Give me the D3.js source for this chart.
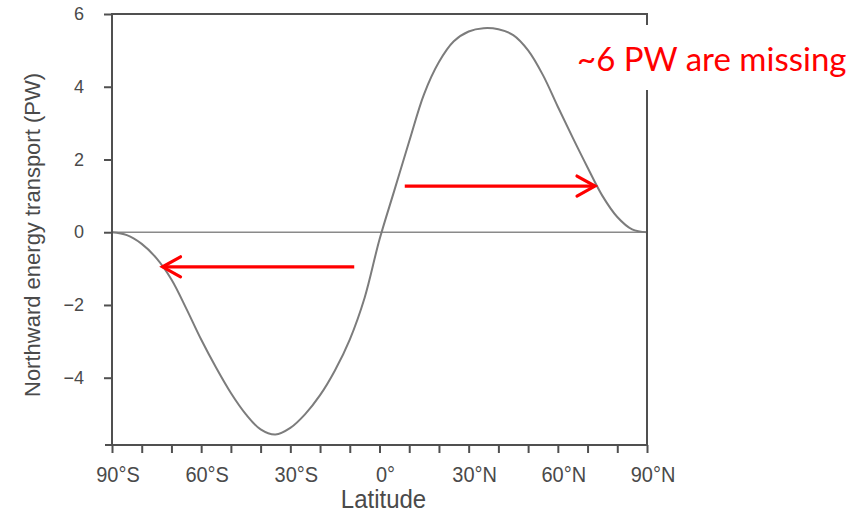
<!DOCTYPE html>
<html>
<head>
<meta charset="utf-8">
<script src="https://d3js.org/d3.v7.min.js"></script>
<style>
  body { margin: 0; background: #fff; }
  svg { display: block; }
</style>
</head>
<body>
<svg width="846" height="519"></svg>
<script>
// latitude (deg, negative = south) and northward energy transport (PW)
var latitude = [-90, -85, -80, -75, -70, -65, -60, -55, -50, -45, -40, -35, -30,
    -25, -20, -15, -10, -5, 0, 5, 10, 15, 20, 25, 30, 35, 40, 45, 50, 55, 60,
    65, 70, 75, 80, 85, 90];
var transport = [0, -0.08, -0.32, -0.72, -1.3, -2.1, -2.95, -3.72, -4.42, -5.0,
    -5.42, -5.56, -5.38, -5.0, -4.48, -3.8, -2.95, -1.8, -0.2, 1.15, 2.5, 3.8,
    4.68, 5.25, 5.52, 5.61, 5.58, 5.42, 5.0, 4.32, 3.45, 2.6, 1.78, 1.0, 0.42,
    0.08, 0];

var yTicks = [-4, -2, 0, 2, 4, 6];
var xMinorTicks = [-90, -80, -70, -60, -50, -40, -30, -20, -10, 0, 10, 20, 30, 40, 50, 60, 70, 80, 90];
var xLabelTicks = [-90, -60, -30, 0, 30, 60, 90];
var xTickLabels = ["90°S", "60°S", "30°S", "0°", "30°N", "60°N", "90°N"];

// red annotation arrows: [from lat, to lat, at value]
var arrowFrom = [-8.5, 8.5];
var arrowTo = [-73, 72.5];
var arrowAt = [-0.95, 1.27];
var note = "~6 PW are missing";

var svg = d3.select("svg"),
    frameColor = "#505050",
    textColor = "#4a4a4a";

var x = d3.scaleLinear().domain([-90, 90]).range([112, 647]),
    y = d3.scaleLinear().domain([-5.85, 6]).range([445, 14]);

// zero line
svg.append("line")
    .attr("x1", x(-90)).attr("x2", x(90))
    .attr("y1", y(0)).attr("y2", y(0))
    .attr("stroke", "#8a8a8a")
    .attr("stroke-width", 1.6);

// curve
var line = d3.line()
    .x(function(d, i) { return x(latitude[i]); })
    .y(function(d) { return y(d); })
    .curve(d3.curveCatmullRom.alpha(0.5));

svg.append("path")
    .datum(transport)
    .attr("d", line)
    .attr("fill", "none")
    .attr("stroke", "#7c7c7c")
    .attr("stroke-width", 2);

// y axis
var yAxis = svg.append("g")
    .attr("transform", "translate(" + x(-90) + ",0)")
    .call(d3.axisLeft(y).tickValues(yTicks).tickSize(8).tickPadding(20)
        .tickFormat(function(d) { return d3.format("d")(d).replace("-", "\u2212"); }));
yAxis.select(".domain").remove();
yAxis.selectAll("line").attr("stroke", frameColor).attr("stroke-width", 2);
yAxis.selectAll("text")
    .attr("fill", textColor)
    .style("font-family", "'Liberation Sans', Arial, sans-serif")
    .style("font-size", "18px");

// x axis
var xAxis = svg.append("g")
    .attr("transform", "translate(0," + y(-5.85) + ")")
    .call(d3.axisBottom(x).tickValues(xMinorTicks).tickSize(8).tickFormat(""));
xAxis.select(".domain").remove();
xAxis.selectAll("line").attr("stroke", frameColor).attr("stroke-width", 2);

svg.append("g").selectAll("text")
    .data(xLabelTicks)
    .enter().append("text")
    .attr("transform", function(d) { return "translate(" + (x(d) + 6) + ",482) scale(1,1.1)"; })
    .attr("text-anchor", "middle")
    .attr("fill", textColor)
    .style("font-family", "'Liberation Sans', Arial, sans-serif")
    .style("font-size", "20px")
    .text(function(d, i) { return xTickLabels[i]; });

// frame
svg.append("rect")
    .attr("x", x(-90)).attr("y", y(6))
    .attr("width", x(90) - x(-90)).attr("height", y(-5.85) - y(6))
    .attr("fill", "none")
    .attr("stroke", frameColor)
    .attr("stroke-width", 2);
svg.append("line")
    .attr("x1", x(-90) - 7).attr("x2", x(-90))
    .attr("y1", y(-5.85)).attr("y2", y(-5.85))
    .attr("stroke", frameColor).attr("stroke-width", 2);

// axis titles
svg.append("text")
    .attr("transform", "translate(" + ((x(-90) + x(90)) / 2 + 4) + ",508) scale(1,1.1)")
    .attr("text-anchor", "middle")
    .attr("fill", textColor)
    .style("font-family", "'Liberation Sans', Arial, sans-serif")
    .style("font-size", "24px")
    .text("Latitude");

svg.append("text")
    .attr("transform", "translate(40,235) rotate(-90)")
    .attr("text-anchor", "middle")
    .attr("fill", textColor)
    .style("font-family", "'Liberation Sans', Arial, sans-serif")
    .style("font-size", "22px")
    .text("Northward energy transport (PW)");

// annotation arrows
var red = "#ff0000";
arrowFrom.forEach(function(a, i) {
    var x0 = x(a), x1 = x(arrowTo[i]), yy = y(arrowAt[i]),
        dir = x1 > x0 ? -1 : 1,
        hx = x1 + dir * 18;
    svg.append("line")
        .attr("x1", x0).attr("x2", x1)
        .attr("y1", yy).attr("y2", yy)
        .attr("stroke", red).attr("stroke-width", 3.2);
    svg.append("path")
        .attr("d", "M" + hx + "," + (yy - 10) + "L" + x1 + "," + yy + "L" + hx + "," + (yy + 10))
        .attr("fill", "none")
        .attr("stroke", red)
        .attr("stroke-width", 3.2)
        .attr("stroke-linecap", "round");
});

// note with white backing
svg.append("rect")
    .attr("x", 572).attr("y", 25)
    .attr("width", 274).attr("height", 65)
    .attr("fill", "#fff");
svg.append("text")
    .attr("x", 577).attr("y", 71)
    .attr("fill", red)
    .style("font-family", "Lato, 'Open Sans', sans-serif")
    .style("font-size", "33px")
    .text(note);
</script>
</body>
</html>
